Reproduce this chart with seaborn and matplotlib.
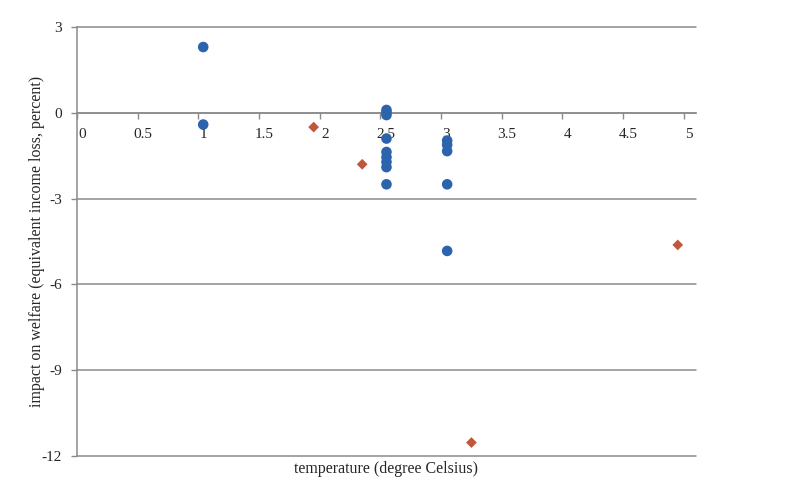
import matplotlib
matplotlib.use("Agg")

import pandas as pd
import seaborn as sns
import matplotlib.pyplot as plt
import matplotlib.transforms as mtransforms
import numpy as np

# Blue series: model estimates (circles)
blue_x = [1.04, 1.04,
          2.55, 2.55, 2.55, 2.55, 2.55, 2.55, 2.55, 2.55, 2.55,
          3.05, 3.05, 3.05, 3.05, 3.05]
blue_y = [2.3, -0.41,
          0.1, 0.02, -0.08, -0.9, -1.37, -1.55, -1.72, -1.9, -2.5,
          -0.97, -1.12, -1.34, -2.5, -4.83]

# Orange series (diamonds)
orange_x = [1.95, 2.35, 3.25, 4.95]
orange_y = [-0.5, -1.8, -11.53, -4.62]

x_ticks = [0, 0.5, 1, 1.5, 2, 2.5, 3, 3.5, 4, 4.5, 5]
x_tick_labels = ['0', '0.5', '1', '1.5', '2', '2.5', '3', '3.5', '4', '4.5', '5']
y_ticks = [-12, -9, -6, -3, 0, 3]

df = pd.concat([
    pd.DataFrame({'x': blue_x, 'y': blue_y, 'series': 'blue'}),
    pd.DataFrame({'x': orange_x, 'y': orange_y, 'series': 'orange'}),
], ignore_index=True)

sns.set_style("white")
plt.rcParams['font.family'] = ['Liberation Serif', 'DejaVu Serif']
plt.rcParams['axes.unicode_minus'] = False

fig = plt.figure(figsize=(8.07, 4.91), dpi=100)
ax = fig.add_axes([0.0954, 0.0713, 0.767, 0.8737])

grid_col = '#8a8a8a'

sns.scatterplot(data=df, x='x', y='y', hue='series', style='series',
                palette={'blue': '#2c63ad', 'orange': '#c0573a'},
                markers={'blue': 'o', 'orange': 'D'},
                s=55, linewidth=0, legend=False, ax=ax, zorder=3)
# diamonds are a bit smaller than the circles
ax.collections[0].set_sizes([58 if s == 'blue' else 30 for s in df['series']])

ax.set_xlim(0, 5.1)
ax.set_ylim(-12, 3)
ax.set_xticks(x_ticks)
ax.set_xticklabels(x_tick_labels)
ax.set_yticks(y_ticks)

ax.yaxis.grid(True, color=grid_col, linewidth=1.1)
ax.xaxis.grid(False)
ax.set_axisbelow(True)
for gl in ax.get_ygridlines():
    gl.set_clip_on(False)

for side in ['top', 'right']:
    ax.spines[side].set_visible(False)
ax.spines['bottom'].set_position(('data', 0))
ax.spines['bottom'].set_color(grid_col)
ax.spines['left'].set_color(grid_col)
ax.spines['bottom'].set_linewidth(1.1)
ax.spines['left'].set_linewidth(1.1)

ax.tick_params(axis='x', direction='out', length=4, width=1, color=grid_col,
               pad=7, labelsize=11, bottom=True)
ax.tick_params(axis='y', direction='out', length=4, width=1, color=grid_col,
               pad=7, labelsize=11, left=True)

# Excel draws the x labels a little to the right of the tick marks
offset = mtransforms.ScaledTranslation(5 / 100, 0, fig.dpi_scale_trans)
for lab in ax.get_xticklabels():
    lab.set_transform(lab.get_transform() + offset)

ax.set_xlabel('temperature (degree Celsius)', fontsize=11.5)
ax.xaxis.set_label_coords(0.5, -0.012)
ax.xaxis.label.set_va('top')
ax.set_ylabel('impact on welfare (equivalent income loss, percent)', fontsize=11.5)
ax.yaxis.set_label_coords(-0.052, 0.5)

plt.savefig('out.png', dpi=100)
plt.close()
